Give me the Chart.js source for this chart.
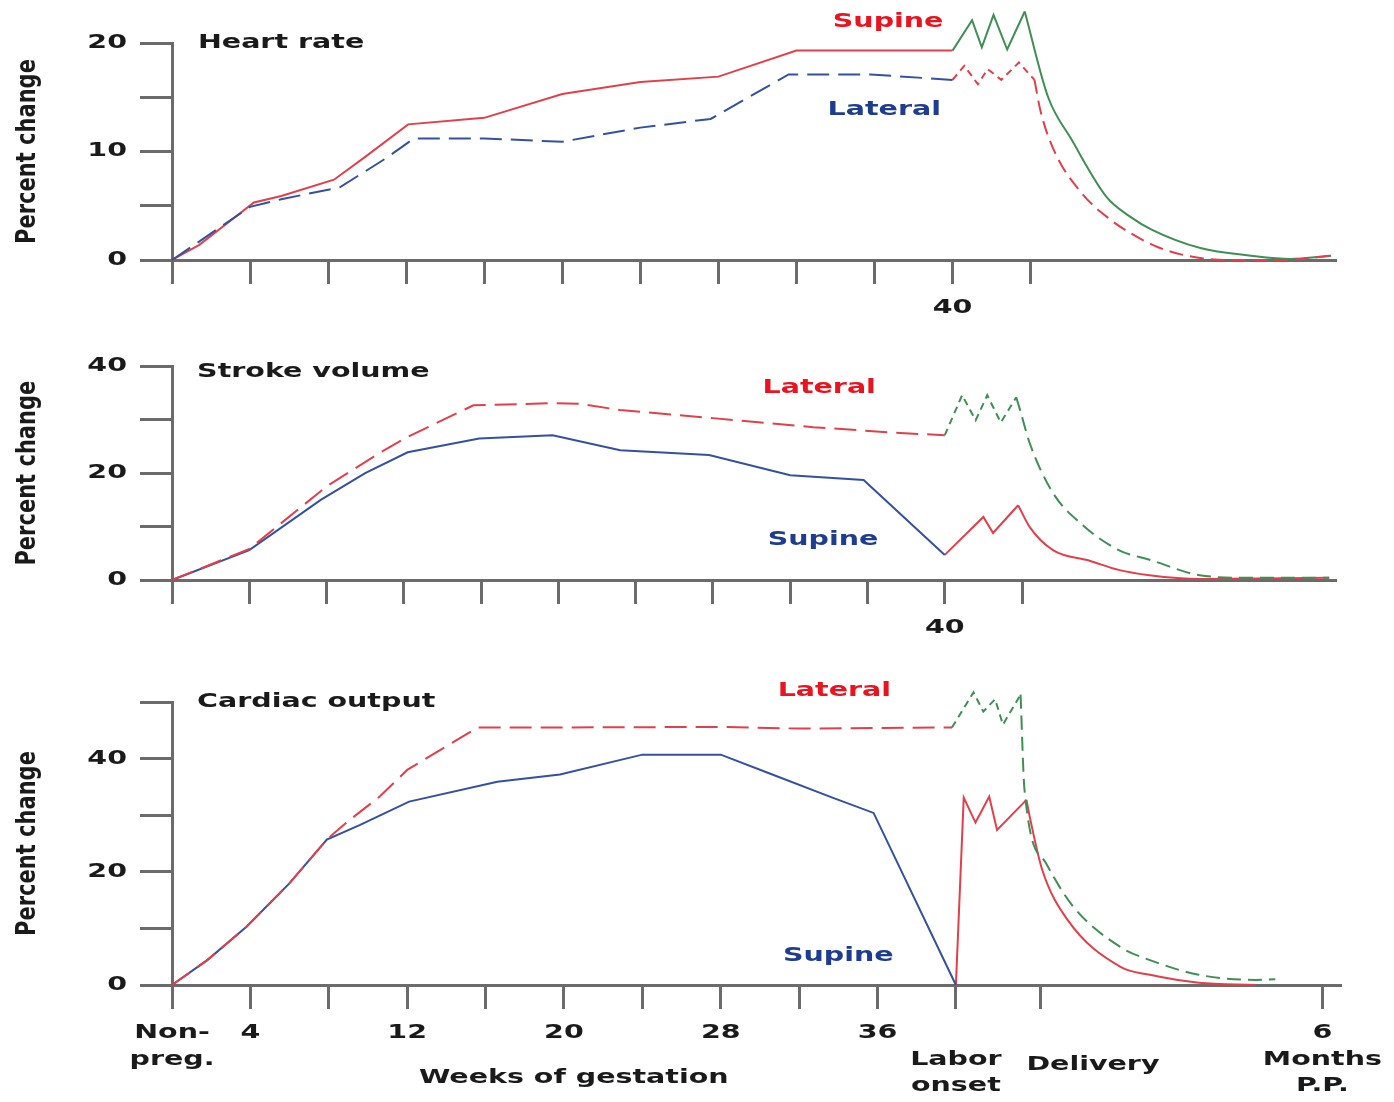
<!DOCTYPE html>
<html>
<head>
<meta charset="utf-8">
<script src="https://cdn.jsdelivr.net/npm/chart.js@4.4.1/dist/chart.umd.min.js"></script>
<style>
html,body{margin:0;padding:0;background:#fff;width:1394px;height:1102px;overflow:hidden}
canvas{position:absolute;left:0}
</style>
</head>
<body>
<canvas id="c1" width="1394" height="340" style="top:0px"></canvas>
<canvas id="c2" width="1394" height="330" style="top:340px"></canvas>
<canvas id="c3" width="1394" height="432" style="top:670px"></canvas>
<script>
// ---------------- DATA ----------------
// Heart rate
const hrSupineWeeks   = [0, 1.4, 4.2, 5.6, 8.3, 9.9, 12.1, 16.0, 20.0, 24.0, 28.0, 32.0, 40.0];
const hrSupineValues  = [0, 1.4, 5.3, 5.9, 7.4, 9.5, 12.5, 13.1, 15.3, 16.4, 16.9, 19.3, 19.3];
const hrLateralWeeks  = [0, 4.0, 5.6, 8.6, 10.9, 12.4, 16.0, 20.0, 24.0, 27.6, 31.6, 35.8, 40.0];
const hrLateralValues = [0, 4.9, 5.6, 6.7, 9.3, 11.2, 11.2, 10.9, 12.2, 13.0, 17.1, 17.1, 16.6];
const hrLaborSupineWeeks    = [40.0, 41.0, 41.5, 42.1, 42.8, 43.7];
const hrLaborSupineValues   = [19.3, 22.1, 19.6, 22.6, 19.4, 22.9];
const hrPostSupineWeeks     = [43.7, 44.9, 46.1, 47.9, 49.1, 50.2, 52.7, 55.3, 57.3, 59.4];
const hrPostSupineValues    = [22.9, 15.0, 11.1, 5.8, 4.0, 2.8, 1.1, 0.4, 0.1, 0.4];
const hrLaborLateralWeeks   = [40.0, 40.6, 41.3, 41.8, 42.5, 43.4, 44.2];
const hrLaborLateralValues  = [16.6, 17.9, 16.2, 17.6, 16.6, 18.2, 16.6];
const hrPostLateralWeeks    = [44.2, 44.5, 45.2, 46.6, 48.1, 49.1, 50.5, 52.0, 54.0, 57.0, 59.4];
const hrPostLateralValues   = [16.6, 13.8, 10.1, 6.2, 3.7, 2.5, 1.2, 0.4, 0.0, 0.0, 0.4];

// Stroke volume
const svLateralWeeks  = [0, 4.0, 8.0, 10.8, 12.2, 15.6, 19.7, 21.1, 23.2, 28.0, 33.2, 37.7, 40.0];
const svLateralValues = [0, 5.8, 17.5, 23.9, 26.8, 32.7, 33.1, 33.0, 31.8, 30.3, 28.6, 27.5, 27.1];
const svSupineWeeks   = [0, 4.0, 7.7, 10.0, 12.2, 15.9, 19.7, 23.2, 27.8, 32.0, 35.8, 40.0];
const svSupineValues  = [0, 5.6, 15.0, 20.0, 23.9, 26.5, 27.1, 24.3, 23.4, 19.6, 18.7, 4.7];
const svLaborLateralWeeks   = [40.0, 40.9, 41.6, 42.2, 42.9, 43.7];
const svLaborLateralValues  = [27.1, 34.6, 29.9, 34.6, 29.5, 34.2];
const svPostLateralWeeks    = [43.7, 43.9, 44.4, 45.6, 47.0, 49.0, 50.6, 53.2, 55.8, 59.9];
const svPostLateralValues   = [34.2, 31.8, 25.6, 16.3, 10.7, 5.6, 3.8, 0.9, 0.4, 0.4];
const svLaborSupineWeeks    = [40.0, 42.0, 42.5, 43.8];
const svLaborSupineValues   = [4.7, 11.8, 8.8, 14.0];
const svPostSupineWeeks     = [43.8, 44.4, 45.6, 47.5, 49.0, 50.6, 53.2, 59.9];
const svPostSupineValues    = [14.0, 9.9, 5.6, 3.6, 1.9, 0.9, 0.2, 0.4];

// Cardiac output
const coLateralWeeks  = [0, 1.8, 3.8, 6.0, 7.9, 8.9, 10.6, 12.0, 15.6, 20.0, 28.0, 32.0, 36.0, 39.8];
const coLateralValues = [0, 4.4, 10.3, 18.0, 25.7, 28.7, 33.3, 38.0, 45.5, 45.5, 45.6, 45.3, 45.4, 45.5];
const coSupineWeeks   = [0, 1.8, 3.8, 6.0, 7.9, 9.6, 12.1, 16.6, 19.8, 24.0, 28.0, 30.4, 33.7, 35.8, 40.0];
const coSupineValues  = [0, 4.4, 10.3, 18.0, 25.7, 28.3, 32.4, 35.9, 37.2, 40.7, 40.7, 37.5, 33.1, 30.4, 0];
const coLaborSupineWeeks    = [40.0, 40.4, 41.0, 41.7, 42.1, 43.6];
const coLaborSupineValues   = [0, 33.1, 28.7, 33.3, 27.4, 32.7];
const coPostSupineWeeks     = [43.6, 43.8, 44.4, 45.7, 48.4, 49.9, 52.4, 55.3];
const coPostSupineValues    = [32.7, 29.2, 20.4, 11.5, 3.2, 1.8, 0.4, 0];
const coLaborLateralWeeks   = [39.8, 40.9, 41.4, 42.0, 42.4, 43.3];
const coLaborLateralValues  = [45.5, 51.7, 48.3, 50.5, 46.0, 51.3];
const coPostLateralWeeks    = [43.3, 43.5, 44.6, 46.0, 48.4, 49.9, 52.4, 55.3, 56.3];
const coPostLateralValues   = [51.3, 34.5, 21.5, 13.8, 6.7, 4.4, 1.8, 0.9, 1.0];

// Tick positions / labels
const gestTicks      = [0, 4, 8, 12, 16, 20, 24, 28, 32, 36, 40, 44];
const gestTickLabels = ['', '', '', '', '', '', '', '', '', '', '40', ''];
const coXTicks       = [0, 4, 8, 12, 16, 20, 24, 28, 32, 36, 40, 44.3, 58.7];
const coXTickLabels  = [['Non-', 'preg.'], '4', '', '12', '', '20', '', '28', '', '36', ['', 'Labor', 'onset'], '', ['6', 'Months', 'P.P.']];
const hrYLabels = [0, 10, 20];
const svYLabels = [0, 20, 40];
const coYLabels = [0, 20, 40];

// ---------------- STYLE ----------------
const RED = '#e0404c', BLUE = '#34519e', GREEN = '#3f8f55';
const RED_TXT = '#e8141f', BLUE_TXT = '#1f3d8f', DARK = '#1a1a1a', AXIS = '#6b6b6b';
const FONT = '"DejaVu Sans", Verdana, sans-serif';
const TEXT_SX = 1.5, TITLE_SX = 1.3;

function stretchText(ctx) {
  if (ctx.__stretched) return;
  ctx.__stretched = true;
  const orig = ctx.fillText;
  ctx.fillText = function (t, x, y, mw) {
    const m = this.getTransform();
    const sx = Math.abs(m.b) > 1e-6 ? TITLE_SX : TEXT_SX;
    const p = m.transformPoint(new DOMPoint(x, y));
    this.save();
    this.setTransform(1, 0, 0, 1, 0, 0);
    this.translate(p.x, p.y);
    this.scale(sx, 1);
    this.translate(-p.x, -p.y);
    this.transform(m.a, m.b, m.c, m.d, m.e, m.f);
    if (mw === undefined) orig.call(this, t, x, y); else orig.call(this, t, x, y, mw);
    this.restore();
  };
}

const zip = (xs, ys) => xs.map((x, i) => ({ x: x, y: ys[i] }));

const textPlugin = {
  id: 'panelText',
  afterDatasetsDraw(chart, args, opts) {
    const ctx = chart.ctx, xs = chart.scales.x, ys = chart.scales.y;
    ctx.save();
    for (const it of opts.items || []) {
      ctx.font = 'bold ' + (it.size || 19) + 'px ' + FONT;
      ctx.fillStyle = it.color || DARK;
      ctx.textAlign = it.align || 'center';
      ctx.textBaseline = 'middle';
      ctx.fillText(it.text, xs.getPixelForValue(it.x), ys.getPixelForValue(it.y));
    }
    ctx.restore();
  }
};

function lineDs(xs, ys, color, dash, smooth) {
  const ds = {
    data: zip(xs, ys), borderColor: color, borderWidth: 2, borderDash: dash || [],
    pointRadius: 0, tension: 0, fill: false, clip: false
  };
  if (smooth) { ds.cubicInterpolationMode = 'monotone'; ds.tension = 0.4; }
  return ds;
}

function makeChart(id, cfg) {
  const canvas = document.getElementById(id);
  stretchText(canvas.getContext('2d'));
  const tickFont = { family: FONT, size: 19, weight: 'bold', lineHeight: 1.4 };
  return new Chart(canvas, {
    type: 'line',
    data: { datasets: cfg.datasets },
    plugins: [textPlugin],
    options: {
      responsive: false, animation: false, devicePixelRatio: 1,
      layout: { padding: { top: cfg.padTop, right: cfg.padRight, left: 0, bottom: 0 } },
      plugins: { legend: { display: false }, tooltip: { enabled: false }, panelText: { items: cfg.texts } },
      scales: {
        x: {
          type: 'linear', min: 0, max: cfg.xMax,
          afterBuildTicks: s => { s.ticks = cfg.xTicks.map(v => ({ value: v })); },
          afterFit: s => { s.height = cfg.xHeight; },
          ticks: {
            autoSkip: false, maxRotation: 0, minRotation: 0, padding: 11, color: DARK, font: tickFont,
            callback: (v, i) => cfg.xLabels[i]
          },
          grid: { drawOnChartArea: false, drawTicks: true, tickLength: 24, color: AXIS, lineWidth: 3 },
          border: { display: true, color: AXIS, width: 3 }
        },
        y: {
          type: 'linear', min: 0, max: cfg.yMax,
          afterFit: s => { s.width = 172; },
          ticks: {
            stepSize: cfg.yStep, padding: 13, color: DARK, font: tickFont,
            callback: v => cfg.yLabels.includes(v) ? String(v) : ''
          },
          grid: { drawOnChartArea: false, drawTicks: true, tickLength: 32, color: AXIS, lineWidth: 3 },
          border: { display: true, color: AXIS, width: 3 },
          title: {
            display: true, text: 'Percent change', color: DARK,
            font: { family: FONT, size: 21, weight: 'bold' }, padding: { top: 15, bottom: 0 }
          }
        }
      }
    }
  });
}

// Heart rate
makeChart('c1', {
  padTop: 43, padRight: 59, xHeight: 80, xMax: 59.6, yMax: 20, yStep: 5, yLabels: hrYLabels,
  xTicks: gestTicks, xLabels: gestTickLabels,
  datasets: [
    lineDs(hrLateralWeeks, hrLateralValues, BLUE, [22, 9]),
    lineDs(hrSupineWeeks, hrSupineValues, RED),
    lineDs(hrLaborLateralWeeks, hrLaborLateralValues, RED, [7, 5]),
    lineDs(hrPostLateralWeeks, hrPostLateralValues, RED, [14, 7], true),
    lineDs(hrLaborSupineWeeks, hrLaborSupineValues, GREEN),
    lineDs(hrPostSupineWeeks, hrPostSupineValues, GREEN, [], true)
  ],
  texts: [
    { text: 'Heart rate', x: 1.33, y: 20, align: 'left' },
    { text: 'Supine', x: 36.7, y: 21.9, color: RED_TXT },
    { text: 'Lateral', x: 36.5, y: 13.8, color: BLUE_TXT }
  ]
});

// Stroke volume
makeChart('c2', {
  padTop: 26, padRight: 59, xHeight: 90, xMax: 60.2, yMax: 40, yStep: 10, yLabels: svYLabels,
  xTicks: gestTicks, xLabels: gestTickLabels,
  datasets: [
    lineDs(svLateralWeeks, svLateralValues, RED, [22, 9]),
    lineDs(svSupineWeeks, svSupineValues, BLUE),
    lineDs(svLaborLateralWeeks, svLaborLateralValues, GREEN, [7, 5]),
    lineDs(svPostLateralWeeks, svPostLateralValues, GREEN, [14, 7], true),
    lineDs(svLaborSupineWeeks, svLaborSupineValues, RED),
    lineDs(svPostSupineWeeks, svPostSupineValues, RED, [], true)
  ],
  texts: [
    { text: 'Stroke volume', x: 1.3, y: 38.9, align: 'left' },
    { text: 'Lateral', x: 33.5, y: 35.9, color: RED_TXT },
    { text: 'Supine', x: 33.7, y: 7.5, color: BLUE_TXT }
  ]
});

// Cardiac output
makeChart('c3', {
  padTop: 32, padRight: 54, xHeight: 117, xMax: 59.6, yMax: 50, yStep: 10, yLabels: coYLabels,
  xTicks: coXTicks, xLabels: coXTickLabels,
  datasets: [
    lineDs(coLateralWeeks, coLateralValues, RED, [22, 9]),
    lineDs(coSupineWeeks, coSupineValues, BLUE),
    lineDs(coLaborLateralWeeks, coLaborLateralValues, GREEN, [7, 5]),
    lineDs(coPostLateralWeeks, coPostLateralValues, GREEN, [14, 7], true),
    lineDs(coLaborSupineWeeks, coLaborSupineValues, RED),
    lineDs(coPostSupineWeeks, coPostSupineValues, RED, [], true)
  ],
  texts: [
    { text: 'Cardiac output', x: 1.28, y: 50, align: 'left' },
    { text: 'Lateral', x: 33.8, y: 51.9, color: RED_TXT },
    { text: 'Supine', x: 34.0, y: 5.1, color: BLUE_TXT },
    { text: 'Weeks of gestation', x: 20.5, y: -16.5 },
    { text: 'Delivery', x: 43.6, y: -14.2, align: 'left' }
  ]
});
</script>
</body>
</html>
